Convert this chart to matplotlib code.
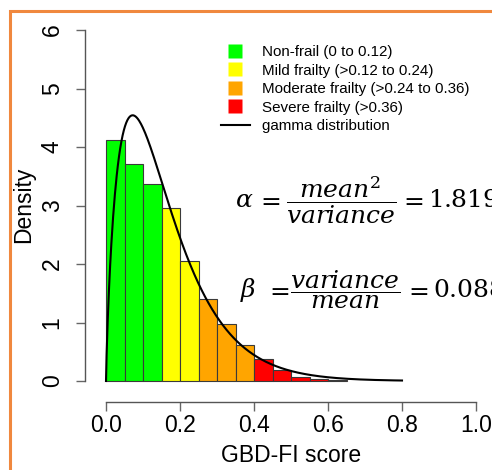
import math
import numpy as np
import matplotlib
matplotlib.use('Agg')
import matplotlib.pyplot as plt
from matplotlib.lines import Line2D
from matplotlib.patches import Rectangle

# histogram of GBD-FI score (bin width 0.05)
bin_left = [0.00, 0.05, 0.10, 0.15, 0.20, 0.25, 0.30, 0.35, 0.40, 0.45, 0.50, 0.55, 0.60]
density = [4.12, 3.71, 3.36, 2.95, 2.05, 1.40, 0.98, 0.61, 0.37, 0.19, 0.07, 0.034, 0.017]
bin_group = ['non', 'non', 'non', 'mild', 'mild', 'mod', 'mod', 'mod',
             'sev', 'sev', 'sev', 'sev', 'sev']

group_colors = {'non': '#00FF00', 'mild': '#FFFF00', 'mod': '#FFA500', 'sev': '#FF0000'}
legend_labels = ['Non-frail (0 to 0.12)', 'Mild frailty (>0.12 to 0.24)',
                 'Moderate frailty (>0.24 to 0.36)', 'Severe frailty (>0.36)']

# gamma parameters printed on the chart
alpha = 1.819
beta = 0.088

x_ticks = [0.0, 0.2, 0.4, 0.6, 0.8, 1.0]
y_ticks = [0, 1, 2, 3, 4, 5, 6]

plt.rcParams['font.family'] = ['Liberation Sans', 'DejaVu Sans']
plt.rcParams['mathtext.fontset'] = 'dejavuserif'

W, H = 492, 470
fig = plt.figure(figsize=(W / 100, H / 100), dpi=100)
ax = fig.add_axes([106 / W, (H - 381) / H, 370 / W, 351 / H])

ax.bar(bin_left, density, width=0.05, align='edge',
       color=[group_colors[g] for g in bin_group],
       edgecolor='#3a3a3a', linewidth=0.8, clip_on=False)

xs = np.linspace(0, 0.8, 500)
pdf = xs ** (alpha - 1) * np.exp(-xs / beta) / (math.gamma(alpha) * beta ** alpha)
ax.plot(xs, pdf, color='black', lw=1.5, clip_on=False)

ax.set_xlim(0, 1)
ax.set_ylim(0, 6)
for s in ['top', 'right']:
    ax.spines[s].set_visible(False)
ax.spines['left'].set_position(('outward', 15))
ax.spines['bottom'].set_position(('outward', 15))
ax.spines['left'].set_bounds(0, 6)
ax.spines['bottom'].set_bounds(0, 1)
for s in ['left', 'bottom']:
    ax.spines[s].set_color('#555555')
    ax.spines[s].set_linewidth(1.0)

ax.set_xticks(x_ticks)
ax.set_xticklabels(['%.1f' % v for v in x_ticks])
ax.set_yticks(y_ticks)
ax.set_yticklabels([str(v) for v in y_ticks], rotation=90, va='center')
ax.tick_params(axis='both', length=6.5, width=1.0, color='#666666', labelsize=16.5)
ax.tick_params(axis='x', pad=2)
ax.tick_params(axis='y', pad=9)

fig.text(24 / W, (H - 205) / H, 'Density', rotation=90, fontsize=16.5,
         ha='center', va='center')
fig.text(291 / W, (H - 456) / H, 'GBD-FI score', fontsize=16.5,
         ha='center', va='center')

handles = [Line2D([], [], marker='s', linestyle='none', markersize=10.5,
                  markerfacecolor=group_colors[g], markeredgecolor='none')
           for g in ['non', 'mild', 'mod', 'sev']]
handles.append(Line2D([], [], color='black', lw=1.5))
ax.legend(handles, legend_labels + ['gamma distribution'],
          loc='upper left', bbox_to_anchor=(221 / W, (H - 45) / H),
          bbox_transform=fig.transFigure, frameon=False, fontsize=10.9,
          handlelength=1.9, handletextpad=0.8, labelspacing=0.3,
          borderpad=0, borderaxespad=0)


def equation(sym, x_sym, x_eq1, frac, x_frac, x_eq2, value, x_val, y_base, y_line):
    kw = dict(fontsize=18, va='baseline')
    fig.text(x_sym / W, (H - y_base) / H, sym, ha='left', **kw)
    fig.text(x_eq1 / W, (H - y_base) / H, r'$=$', ha='left', **kw)
    fig.text(x_frac / W, (H - y_line) / H, frac, ha='center', va='center', fontsize=18)
    fig.text(x_eq2 / W, (H - y_base) / H, r'$=$', ha='left', **kw)
    fig.text(x_val / W, (H - y_base) / H, value, ha='left', **kw)


equation(r'$\alpha$', 235, 256, r'$\dfrac{mean^2}{variance}$', 341.5, 399,
         r'$1.819$', 428, 207, 200)
equation(r'$\beta$', 240, 265, r'$\dfrac{variance}{mean}$', 345, 404,
         r'$0.088$', 433, 297, 290)

fig.add_artist(Rectangle((10 / W, -0.1), 1.1, (H - 11) / H + 0.1,
                         transform=fig.transFigure, fill=False,
                         edgecolor='#F0883E', lw=2.2, clip_on=False))

fig.savefig('out.png', dpi=100, facecolor='white')
